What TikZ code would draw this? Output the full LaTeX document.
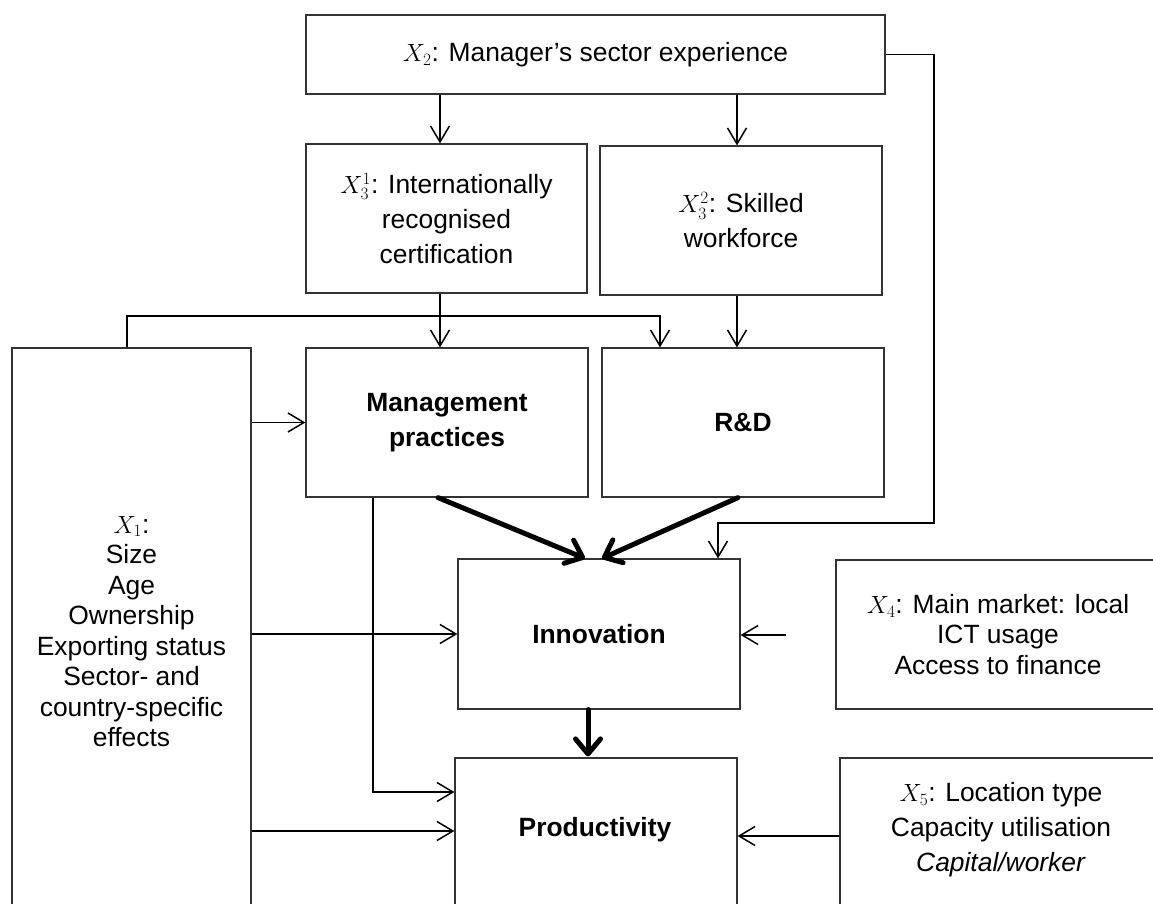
\documentclass[tikz,border=0pt]{standalone}
\usepackage{fontspec}
\setmainfont{Liberation Sans}
\usetikzlibrary{arrows.meta}
\begin{document}
\begin{tikzpicture}[x=1pt,y=-1pt,
  box/.style={draw=black!80, line width=1.2pt, rectangle, inner sep=0pt, align=center},
  txt/.style={align=center, font=\fontsize{26.4}{30.5}\selectfont},
  wtxt/.style={align=center, font=\fontsize{26.4}{35}\selectfont},
  conn/.style={line width=1.5pt, -{Straight Barb[length=16pt,width=19pt]}},
  bigarrow/.style={line width=5pt, line cap=round, -{Straight Barb[length=15pt,width=25pt,round]}}
]
\useasboundingbox (0,0) rectangle (1153,904);

% boxes
\node[box, wtxt, minimum width=579pt, minimum height=79pt] (x2) at (595.5,54.5) {$X_2$: Manager’s sector experience};
\node[box, wtxt, minimum width=281pt, minimum height=149pt] (x31) at (446.5,218.5) {$X_3^1$: Internationally\\recognised\\certification};
\node[box, wtxt, minimum width=282pt, minimum height=149pt] (x32) at (741,220.5) {$X_3^2$: Skilled\\workforce};
\node[box, wtxt, minimum width=282pt, minimum height=149pt] (mgmt) at (447,422.5) {\bfseries Management\\\bfseries practices};
\node[box, wtxt, minimum width=282pt, minimum height=149pt] (rd) at (743,422.5) {\bfseries R\&D};
\node[box, txt, minimum width=239pt, minimum height=567pt] (x1) at (131.5,631.5) {$X_1$:\\Size\\Age\\Ownership\\Exporting status\\Sector- and\\country-specific\\effects};
\node[box, txt, minimum width=282pt, minimum height=150pt] (innov) at (599,634) {\bfseries Innovation};
\node[box, txt, minimum width=324pt, minimum height=149pt] (x4) at (998,634.5) {$X_4$: Main market: local\\ICT usage\\Access to finance};
\node[box, minimum width=282pt, minimum height=160pt] (prod) at (596,838) {};
\node[txt] (prodt) at (595,830) {\bfseries Productivity};
\node[box, minimum width=320pt, minimum height=160pt] (x5) at (1000,838) {};
\node[wtxt] (x5t) at (1001,830) {$X_5$: Location type\\Capacity utilisation\\\textit{Capital/worker}};

% helper coordinates
\coordinate (colA) at (440,0);
\coordinate (colB) at (737,0);
\coordinate (colC) at (660,0);
\coordinate (colD) at (373,0);
\coordinate (colE) at (718,0);
\coordinate (colG) at (934,0);
\coordinate (rowF) at (0,316);
\coordinate (rowH) at (0,523);
\coordinate (rowI) at (0,792);
\coordinate (rowJ) at (0,831);
\coordinate (rowK) at (0,836);
\coordinate (x4arr) at (786,635);

% thin connectors
\draw[conn] (x2.south -| colA) -- (x31.north -| colA);
\draw[conn] (x2.south -| colB) -- (x32.north -| colB);
\draw[conn] (x31.south -| colA) -- (mgmt.north -| colA);
\draw[conn] (x32.south -| colB) -- (rd.north -| colB);
\draw[conn] ([xshift=-4.5pt]x1.north) -- ([xshift=-4.5pt]x1.north |- rowF) -- (rowF -| colC) -- (rd.north -| colC);
\draw[conn] (x2.east) -- (x2.east -| colG) -- (colG |- rowH) -- (rowH -| colE) -- (innov.north -| colE);
\draw[conn] (x1.east |- mgmt.west) -- (mgmt.west);
\draw[conn] (x1.east |- innov.west) -- (innov.west);
\draw[conn] (x1.east |- rowJ) -- (prod.west |- rowJ);
\draw[conn] (mgmt.south -| colD) -- (colD |- rowI) -- (prod.west |- rowI);
\draw[conn] (x4arr) -- (innov.east |- x4arr);
\draw[conn] (x5.west |- rowK) -- (prod.east |- rowK);

% thick connectors
\draw[bigarrow] ([xshift=-9pt]mgmt.south) -- ([xshift=-14pt]innov.north);
\draw[bigarrow] ([xshift=-5pt]rd.south) -- ([xshift=3pt]innov.north);
\draw[bigarrow] ([xshift=-11pt]innov.south) -- ([xshift=-8pt,yshift=1pt]prod.north);
\end{tikzpicture}
\end{document}
